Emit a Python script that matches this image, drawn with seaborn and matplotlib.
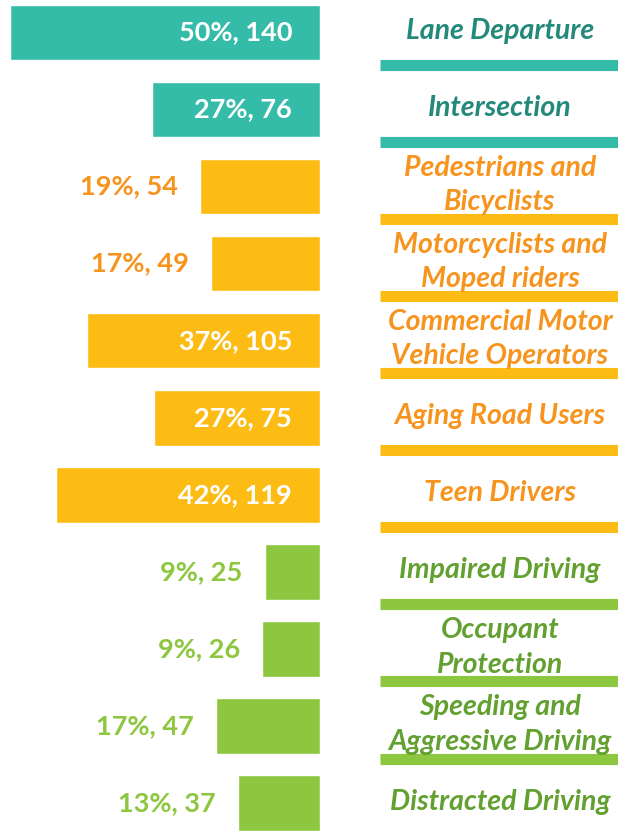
import matplotlib
matplotlib.use('Agg')
import matplotlib.pyplot as plt
import seaborn as sns
import pandas as pd

categories = ['Lane Departure', 'Intersection', 'Pedestrians and\nBicyclists',
              'Motorcyclists and\nMoped riders', 'Commercial Motor\nVehicle Operators',
              'Aging Road Users', 'Teen Drivers', 'Impaired Driving',
              'Occupant\nProtection', 'Speeding and\nAggressive Driving',
              'Distracted Driving']
percents = [50, 27, 19, 17, 37, 27, 42, 9, 9, 17, 13]
counts = [140, 76, 54, 49, 105, 75, 119, 25, 26, 47, 37]
groups = ['road', 'road', 'users', 'users', 'users', 'users', 'users',
          'behavior', 'behavior', 'behavior', 'behavior']

bar_colors = {'road': '#35BCA9', 'users': '#FDBC13', 'behavior': '#8DC63F'}
label_colors = {'road': '#23897A', 'users': '#F7941E', 'behavior': '#62A030'}
value_colors = {'road': '#35BCA9', 'users': '#F7941E', 'behavior': '#8DC63F'}

df = pd.DataFrame({'category': categories, 'count': counts,
                   'pct': percents, 'group': groups})

sns.set_style('white')
plt.rcParams['font.family'] = ['Lato', 'DejaVu Sans']

fig = plt.figure(figsize=(6.18, 8.31), dpi=100)
ax = fig.add_axes([0, 0, 1, 1])

sns.barplot(data=df, x='count', y='category', hue='group', palette=bar_colors,
            dodge=False, legend=False, width=0.72, saturation=1, ax=ax)

ax.set_xlim(144.5, -134.6)
ax.set_ylim(10.36, -0.42)
ax.axis('off')

inside_min = 75
for i, row in df.iterrows():
    # value labels: white inside long bars, coloured outside short ones
    txt = f"{row['pct']}%, {row['count']}"
    if row['count'] >= inside_min:
        ax.text(12.6, i, txt, ha='right', va='center', color='white',
                fontsize=19.5, fontweight='bold')
    else:
        ax.text(row['count'] + 10, i, txt, ha='right', va='center',
                color=value_colors[row['group']], fontsize=19.5, fontweight='bold')
    # category name on the right
    ax.text(-81.3, i - 0.02, row['category'], ha='center', va='center',
            color=label_colors[row['group']], fontsize=20.5, fontweight='bold',
            fontstyle='italic', linespacing=1.4)
    # underline bar below each name except the last
    if i < len(df) - 1:
        ax.hlines(i + 0.42, -27.1, -140, colors=bar_colors[row['group']],
                  linewidth=8)

fig.savefig('out.png', dpi=100)
